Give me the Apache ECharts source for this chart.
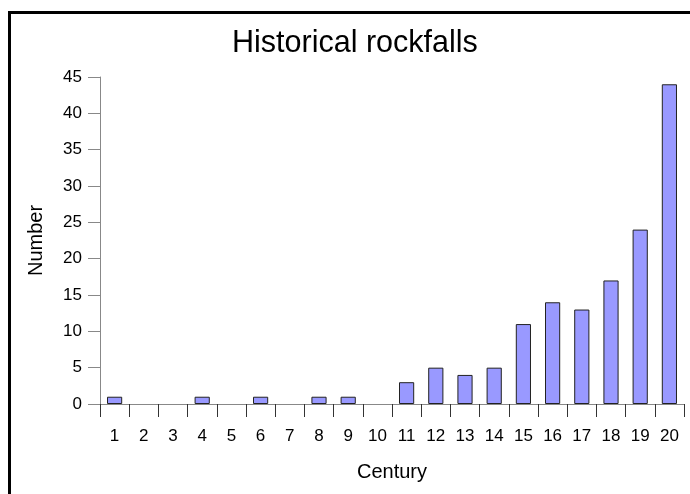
<!DOCTYPE html>
<html>
<head>
<meta charset="utf-8">
<script src="https://cdn.jsdelivr.net/npm/echarts@6/dist/echarts.min.js"></script>
<style>
html,body{margin:0;padding:0;background:#fff;}
#chart{width:690px;height:494px;}
</style>
</head>
<body>
<div id="chart"></div>
<script>
const categories = ['1','2','3','4','5','6','7','8','9','10','11','12','13','14','15','16','17','18','19','20'];
const values = [1,0,0,1,0,1,0,1,1,0,3,5,4,5,11,14,13,17,24,44];
const yTicks = [0,5,10,15,20,25,30,35,40,45];

const chart = echarts.init(document.getElementById('chart'), null, {renderer:'canvas'});
const font = 'Liberation Sans, Arial, sans-serif';
chart.setOption({
  animation: false,
  backgroundColor: '#fff',
  title: {
    text: 'Historical rockfalls',
    left: 227,
    top: 23,
    textStyle: {fontFamily: font, fontSize: 30.5, fontWeight: 'normal', color: '#000'}
  },
  graphic: [{
    type: 'rect',
    shape: {x: 9.5, y: 12.5, width: 720, height: 520},
    style: {fill: null, stroke: '#000', lineWidth: 3},
    silent: true,
    z: 100
  }],
  grid: {left: 100, right: 6, top: 77, bottom: 90, containLabel: false},
  xAxis: {
    type: 'category',
    data: categories,
    name: 'Century',
    nameLocation: 'middle',
    nameGap: 58,
    nameTextStyle: {fontFamily: font, fontSize: 20, color: '#000'},
    axisLine: {lineStyle: {color: '#888', width: 1}},
    axisTick: {show: true, alignWithLabel: false, length: 13, lineStyle: {color: '#333'}},
    axisLabel: {fontFamily: font, fontSize: 17, color: '#000', margin: 24, interval: 0}
  },
  yAxis: {
    type: 'value',
    min: 0,
    max: 45,
    interval: 5,
    name: 'Number',
    nameLocation: 'middle',
    nameGap: 54,
    nameRotate: 90,
    nameTextStyle: {fontFamily: font, fontSize: 20, color: '#000'},
    axisLine: {show: true, lineStyle: {color: '#888', width: 1}},
    axisTick: {show: true, length: 12, lineStyle: {color: '#888'}},
    axisLabel: {fontFamily: font, fontSize: 17, color: '#000', margin: 18,
      formatter: v => yTicks.includes(v) ? String(v) : ''},
    splitLine: {show: false}
  },
  series: [{
    type: 'bar',
    data: values.map(v => v === 0 ? '-' : v),
    barWidth: '52%',
    itemStyle: {color: '#9999ff', borderColor: '#222', borderWidth: 1}
  }]
});
</script>
</body>
</html>
